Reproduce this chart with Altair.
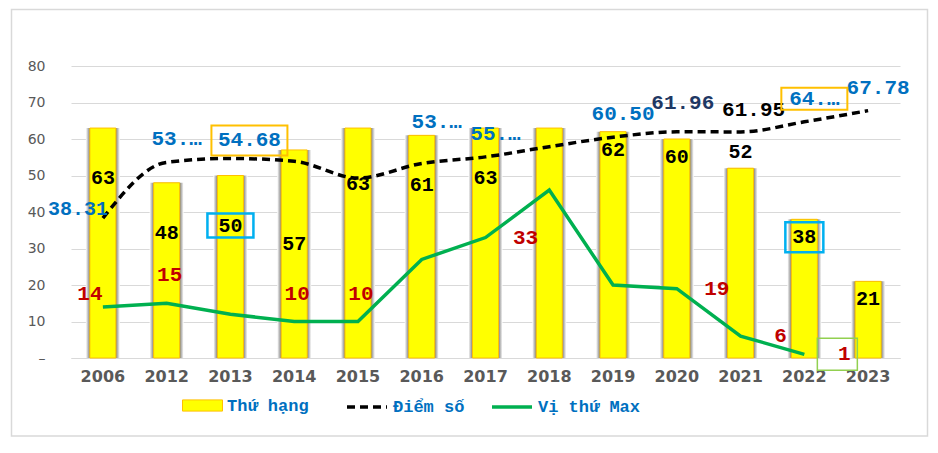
import altair as alt
import pandas as pd

# ---------------- data ----------------
years = ["2006", "2012", "2013", "2014", "2015", "2016", "2017",
         "2018", "2019", "2020", "2021", "2022", "2023"]
rank = [63, 48, 50, 57, 63, 61, 63, 63, 62, 60, 52, 38, 21]
rank_labels = ["63", "48", "50", "57", "63", "61", "63", "", "62", "60", "52", "38", "21"]
score = [38.31, 53.6, 54.68, 53.9, 49.3, 53.3, 55.1, 57.9, 60.50, 61.96, 61.95, 64.7, 67.78]
score_labels = ["38.31", "53.…", "54.68", "", "", "53.…", "55.…", "", "60.50", "61.96", "61.95", "64.…", "67.78"]
max_pos = [14, 15, 12, 10, 10, 27, 33, 46, 20, 19, 6, 1, None]
max_labels = ["14", "15", "", "10", "10", "", "33", "", "", "19", "6", "1", ""]
series_names = ["Thứ hạng", "Điểm số", "Vị thứ Max"]
y_ticks = [0, 10, 20, 30, 40, 50, 60, 70, 80]

df = pd.DataFrame({
    "year": years, "rank": rank, "rank_label": rank_labels,
    "score": score, "score_label": score_labels,
    "max_pos": max_pos, "max_label": max_labels,
    "s_bar": series_names[0], "s_score": series_names[1], "s_max": series_names[2],
})

# ---------------- styling ----------------
W, H = 829, 292
PAD = {"left": 63, "top": 58, "right": 30, "bottom": 80}
MONO = "Liberation Mono"
AXF = "DejaVu Sans"
GRID = "#D9D9D9"

base = alt.Chart(df)
x_enc = alt.X("year:N", sort=years,
              scale=alt.Scale(paddingInner=0, paddingOuter=0),
              axis=alt.Axis(title=None, labelAngle=0, labelFont=AXF, labelFontSize=16,
                            labelFontWeight="bold", labelColor="#595959", labelPadding=10,
                            ticks=False, domainColor=GRID, domainWidth=1, grid=False))
y_scale = alt.Scale(domain=[0, 80], nice=False)
y_axis = alt.Axis(title=None, values=y_ticks,
                  labelExpr="datum.value == 0 ? '–' : datum.label",
                  labelFont=AXF, labelFontSize=14, labelColor="#595959",
                  labelPadding=26, ticks=False, domain=False, grid=True,
                  gridColor=GRID, gridWidth=1)


def Y(field):
    return alt.Y(f"{field}:Q", scale=y_scale, axis=y_axis)


def legend(x):
    return dict(title=None, orient="none", legendX=x, legendY=319, padding=0,
                labelFont=MONO, labelFontSize=17, labelFontWeight="bold",
                labelColor="#0070C0", labelOffset=4, symbolSize=1600)


shadow_grad = {
    "gradient": "linear", "x1": 0, "x2": 1, "y1": 0, "y2": 0,
    "stops": [
        {"offset": 0, "color": "#ffffff"},
        {"offset": 0.12, "color": "#7a7a7a"},
        {"offset": 0.88, "color": "#7a7a7a"},
        {"offset": 1, "color": "#ffffff"},
    ],
}

shadow = base.mark_bar(size=34, color=shadow_grad).encode(
    x=x_enc, y=Y("rank"))

bars = base.mark_bar(size=26, stroke="#FFC000", strokeWidth=1).encode(
    x=x_enc, y=Y("rank"),
    fill=alt.Fill("s_bar:N", scale=alt.Scale(domain=[series_names[0]], range=["#FFFF00"]),
                  legend=alt.Legend(**legend(111),
                                    symbolType="M-1,-0.28H1V0.28H-1Z",
                                    symbolStrokeColor="#FFC000", symbolStrokeWidth=1)))

score_line = base.mark_line(color="#000000", strokeWidth=3.5, interpolate="monotone").encode(
    x=x_enc, y=Y("score"),
    strokeDash=alt.StrokeDash("s_score:N",
                              scale=alt.Scale(domain=[series_names[1]], range=[[8, 5]]),
                              legend=alt.Legend(**legend(274), symbolType="stroke",
                                                symbolStrokeColor="#000000",
                                                symbolStrokeWidth=3.5, symbolDash=[7, 4])))

max_line = base.mark_line(strokeWidth=3.5).encode(
    x=x_enc, y=Y("max_pos"),
    stroke=alt.Stroke("s_max:N", scale=alt.Scale(domain=[series_names[2]], range=["#00B050"]),
                      legend=alt.Legend(**legend(419), symbolType="stroke",
                                        symbolStrokeWidth=3.5)))


def labels(text_field, y_field, sel, dx, dy, color, size):
    return base.transform_filter(
        alt.FieldOneOfPredicate(field="year", oneOf=sel)
    ).mark_text(dx=dx, dy=dy, color=color, fontSize=size, font=MONO, fontWeight="bold",
                align="center", baseline="middle").encode(
        x=x_enc, y=Y(y_field), text=f"{text_field}:N")


def box(y_field, year, dx, dy, w, h, color, sw=2):
    path = f"M{dx - w / 2},{dy - h / 2}H{dx + w / 2}V{dy + h / 2}H{dx - w / 2}Z"
    return base.transform_filter(alt.datum.year == year).mark_point(
        shape=path, size=4, filled=False, color=color, strokeWidth=sw, opacity=1).encode(
        x=x_enc, y=Y(y_field))


# rank labels (black)
rank_lab = [
    labels("rank_label", "rank", ["2006", "2012", "2013", "2016", "2017"], 0, 50, "#000000", 20),
    labels("rank_label", "rank", ["2015"], 0, 56, "#000000", 20),
    labels("rank_label", "rank", ["2014"], 0, 94, "#000000", 20),
    labels("rank_label", "rank", ["2019", "2020", "2022", "2023"], 0, 18, "#000000", 20),
    labels("rank_label", "rank", ["2021"], 0, -16, "#000000", 20),
]
# score labels
score_lab = [
    labels("score_label", "score", ["2006"], -25, -9, "#0070C0", 20),
    labels("score_label", "score", ["2016"], 15, -41, "#0070C0", 21),
    labels("score_label", "score", ["2013"], 19, -18, "#0070C0", 21),
    labels("score_label", "score", ["2012", "2017", "2019", "2022", "2023"], 10, -23, "#0070C0", 21),
    labels("score_label", "score", ["2020"], 6, -29, "#1F3864", 21),
    labels("score_label", "score", ["2021"], 13, -22, "#000000", 21),
]
# max labels (dark red)
max_lab = [
    labels("max_label", "max_pos", ["2006"], -13, -13, "#C00000", 21),
    labels("max_label", "max_pos", ["2012", "2014", "2015"], 3, -28, "#C00000", 21),
    labels("max_label", "max_pos", ["2017", "2020", "2021", "2022"], 40, 0, "#C00000", 21),
]

boxes = [
    box("rank", "2013", 0, 50, 46, 24, "#00B0F0", 2.5),
    box("rank", "2022", 0, 18, 38, 30, "#00B0F0", 2.5),
    box("score", "2013", 19, -18, 76, 30, "#FFC000", 2),
    box("score", "2022", 10, -23, 66, 22, "#FFC000", 2),
    box("max_pos", "2022", 33, 0, 40, 32, "#92D050", 1.5),
]

frame = alt.Chart(pd.DataFrame({"k": [0]})).mark_rect(
    fill="transparent", stroke=GRID, strokeWidth=1.5).encode(
    x=alt.value(-59.5), x2=alt.value(856.5), y=alt.value(-56.5), y2=alt.value(370))

chart = alt.layer(
    frame, shadow, bars, score_line, max_line, *rank_lab, *score_lab, *max_lab, *boxes
).properties(
    width=W, height=H, autosize=alt.AutoSizeParams(type="none"), padding=PAD,
    background="#ffffff",
).configure_view(stroke=None)

chart.save("out.html", embed_options={"renderer": "svg", "actions": False})
